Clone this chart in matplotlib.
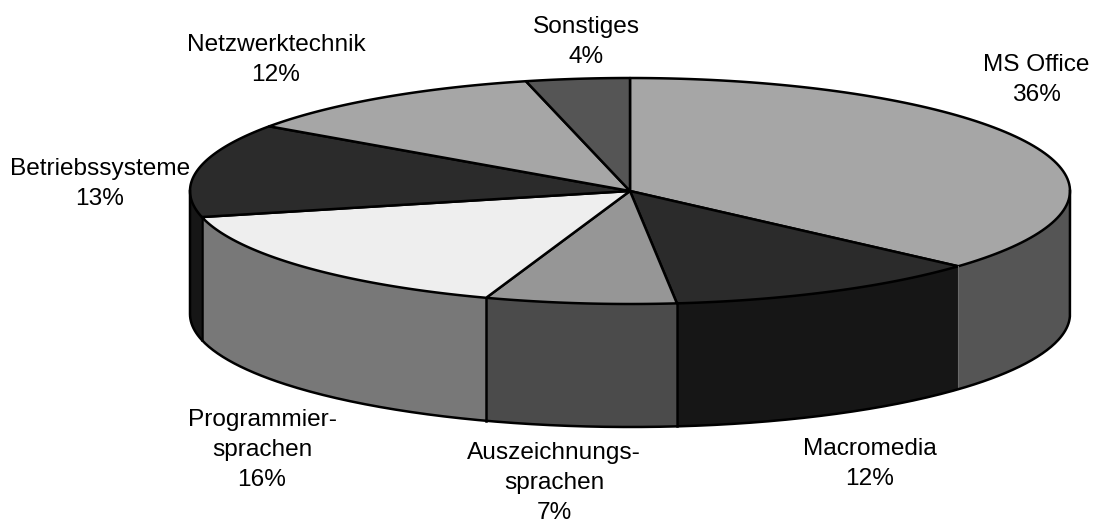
import numpy as np
import matplotlib
matplotlib.use('Agg')
import matplotlib.pyplot as plt
from matplotlib.patches import Polygon

plt.rcParams['font.family'] = ['Liberation Sans', 'DejaVu Sans']

# Anteile (perspektivisch verzerrt, daher nicht exakt die Beschriftung)
labels = ['MS Office\n36%', 'Macromedia\n12%', 'Auszeichnungs-\nsprachen\n7%', 'Programmier-\nsprachen\n16%',
          'Betriebssysteme\n13%', 'Netzwerktechnik\n12%', 'Sonstiges\n4%']
shares = [36.6, 11.7, 7.0, 16.0, 13.4, 11.5, 3.8]
top_colors = ['#a6a6a6', '#2b2b2b', '#969696', '#eeeeee', '#2b2b2b', '#a6a6a6', '#555555']
side_colors = ['#555555', '#161616', '#4b4b4b', '#787878', '#161616', '#a6a6a6', '#555555']
label_x = [1036, 870, 554, 262, 100, 276, 586]
label_y = [80, 464, 483, 450, 184, 60, 42]

cx, cy = 630, 191
rx, ry = 440, 113
depth = 123


def ell(t, dy=0):
    t = np.radians(t)
    return np.column_stack([cx + rx * np.sin(t), cy - ry * np.cos(t) + dy])


fig = plt.figure(figsize=(11.13, 5.24), dpi=100)
ax = fig.add_axes([0, 0, 1, 1])
ax.set_xlim(0, 1113)
ax.set_ylim(524, 0)
ax.axis('off')

edges = np.concatenate([[0], np.cumsum(shares) / sum(shares) * 360])

# Seitenflaechen (nur vordere Haelfte sichtbar)
for i in range(len(shares)):
    a = max(edges[i], 90)
    b = min(edges[i + 1], 270)
    if a >= b:
        continue
    t = np.linspace(a, b, 100)
    pts = np.vstack([ell(t), ell(t[::-1], depth)])
    ax.add_patch(Polygon(pts, closed=True, facecolor=side_colors[i], edgecolor='none'))

# Trennlinien und Aussenkante der Seite
for i, e in enumerate(edges):
    if 90 < e < 270:
        p = np.vstack([ell([e]), ell([e], depth)])
        if i == 1:
            ax.plot(p[:, 0], p[:, 1], color='#6a6a6a', lw=0.8)
        else:
            ax.plot(p[:, 0], p[:, 1], color='black', lw=1.8)
outline = np.vstack([ell([90]), ell(np.linspace(90, 270, 300), depth), ell([270])])
ax.plot(outline[:, 0], outline[:, 1], color='black', lw=1.8, solid_joinstyle='round')

# Deckflaeche
for i in range(len(shares)):
    t = np.linspace(edges[i], edges[i + 1], 100)
    pts = np.vstack([[cx, cy], ell(t)])
    ax.add_patch(Polygon(pts, closed=True, facecolor=top_colors[i], edgecolor='black',
                         lw=1.8, joinstyle='round'))

for lab, x, y in zip(labels, label_x, label_y):
    ax.text(x, y, lab, ha='center', va='center', fontsize=17.6, color='black', linespacing=1.48)

fig.savefig('out.png', dpi=100)
